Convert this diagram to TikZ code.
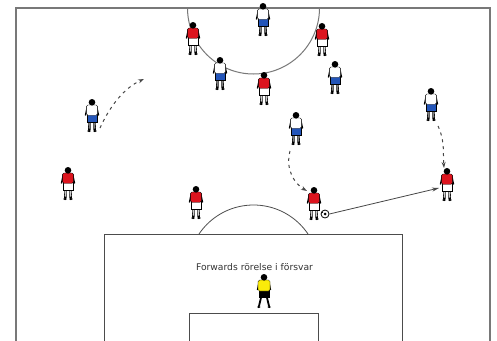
\documentclass[tikz,border=0pt]{standalone}
\usepackage{fontspec}
\newfontfamily\lblfont{DejaVu Sans}
\usetikzlibrary{arrows.meta,calc}
\definecolor{shirtred}{RGB}{220,20,30}
\definecolor{shortsblue}{RGB}{35,85,185}
\definecolor{gkyellow}{RGB}{250,235,10}
\definecolor{linegray}{RGB}{120,120,120}
\definecolor{arrowgray}{RGB}{70,70,70}
\tikzset{
  fieldline/.style={draw=linegray, line width=1.2pt},
  boxline/.style={draw=black!70, line width=0.8pt},
  runarrow/.style={draw=arrowgray, line width=1pt, dash pattern=on 3pt off 4pt, -{Stealth[length=6pt,width=4pt]}},
  passarrow/.style={draw=arrowgray, line width=0.8pt, -{Stealth[length=7pt,width=4pt]}},
  pics/player/.style n args={3}{code={
    % legs
    \draw[black, line width=2.4pt] (-2.4,22) -- (-2.7,31);
    \draw[black, line width=2.4pt] (2.4,22) -- (2.7,31);
    \draw[#3, line width=1.2pt] (-2.4,22) -- (-2.7,29.5);
    \draw[#3, line width=1.2pt] (2.4,22) -- (2.7,29.5);
    \fill[black] (-2.9,32) ellipse (1.9pt and 1.2pt);
    \fill[black] (2.9,32) ellipse (1.9pt and 1.2pt);
    % arms
    \draw[black, line width=1.3pt] (-4.8,8) -- (-6.6,16.5);
    \draw[black, line width=1.3pt] (4.8,8) -- (6.6,16.5);
    % shorts
    \filldraw[fill=#2, draw=black, line width=0.35pt] (-4.8,15.5) rectangle (4.8,23);
    % shirt
    \filldraw[fill=#1, draw=black, line width=0.35pt, rounded corners=1.5pt] (-5.6,6) rectangle (5.6,16.3);
    % head
    \fill[black] (0,3.3) circle (3.3pt);
  }},
  pics/keeper/.style={code={
    \draw[black, line width=1.8pt] (-2.6,22) -- (-5,32);
    \draw[black, line width=1.8pt] (2.6,22) -- (5,32);
    \fill[black] (-5.2,33) ellipse (1.8pt and 1.1pt);
    \fill[black] (5.2,33) ellipse (1.8pt and 1.1pt);
    \draw[black, line width=1.3pt] (-5,8) -- (-6.5,16);
    \draw[black, line width=1.3pt] (5,8) -- (6.5,16);
    \filldraw[fill=black, draw=black] (-5,16) rectangle (5,23);
    \filldraw[fill=gkyellow, draw=black, line width=0.35pt, rounded corners=1.5pt] (-6,6) rectangle (6,17);
    \fill[black] (0,3.3) circle (3.3pt);
  }}
}
\begin{document}
\begin{tikzpicture}[x=1pt, y=-1pt]
\useasboundingbox (0,0) rectangle (497,340);
\fill[white] (0,0) rectangle (497,340);
\begin{scope}
\clip (0,0) rectangle (497,340);
% field border
\draw[fieldline] (16,345) -- (16,8) -- (490,8) -- (490,345);
% centre circle
\begin{scope}
\clip (16,8) rectangle (490,340);
\draw[fieldline, line width=1pt] (253.5,8) circle (66pt);
\end{scope}
% penalty arc
\begin{scope}
\clip (0,0) rectangle (497,234);
\draw[boxline] (253.5,270.7) circle (65.7pt);
\end{scope}
% penalty box and goal area
\draw[boxline] (104,345) -- (104,234) -- (402,234) -- (402,345);
\draw[boxline] (189,345) -- (189,313) -- (318,313) -- (318,345);
\end{scope}

% label
\node[font=\lblfont\fontsize{9.2}{11}\selectfont, text=black!80] (title) at (254.5,267) {Forwards rörelse i försvar};

% players
\pic (p1) at (193,22) {player={shirtred}{white}{gray!40}};
\pic (p2) at (220,57) {player={white}{shortsblue}{gray}};
\pic (p3) at (263,3) {player={white}{shortsblue}{gray}};
\pic (p4) at (322,23) {player={shirtred}{white}{gray!40}};
\pic (p5) at (335,61) {player={white}{shortsblue}{gray}};
\pic (p6) at (264,72) {player={shirtred}{white}{gray!40}};
\pic (p7) at (296,112) {player={white}{shortsblue}{gray}};
\pic (p8) at (431,88) {player={white}{shortsblue}{gray}};
\pic (p9) at (92,99) {player={white}{shortsblue}{gray}};
\pic (p10) at (68,167) {player={shirtred}{white}{gray!40}};
\pic (p11) at (196,186) {player={shirtred}{white}{gray!40}};
\pic (p12) at (314,187) {player={shirtred}{white}{gray!40}};
\pic (p13) at (447,168) {player={shirtred}{white}{gray!40}};
\pic (gk) at (264,274) {keeper};

% ball
\node[circle, draw=black, fill=white, line width=0.8pt, inner sep=0pt, minimum size=8pt] (ball) at (325,214) {};
\fill[black] (ball.center) circle (1.5pt);
\fill[black] ($(ball.center)+(-2.6,-1.8)$) circle (0.8pt);

% arrow end points
\coordinate (a1s) at (100,128);
\coordinate (a1e) at (144,79);
\coordinate (a2s) at (290,151);
\coordinate (a2e) at (307,191);
\coordinate (a3s) at (438,126);
\coordinate (a3e) at (444,168);
\coordinate (a4e) at (439,188);

\draw[runarrow] (a1s) .. controls (110,106) and (124,88) .. (a1e);
\draw[runarrow] (a2s) .. controls (285,170) and (295,184) .. (a2e);
\draw[runarrow] (a3s) .. controls (445,140) and (443,155) .. (a3e);
\draw[passarrow] (ball.east) -- (a4e);
\end{tikzpicture}
\end{document}
